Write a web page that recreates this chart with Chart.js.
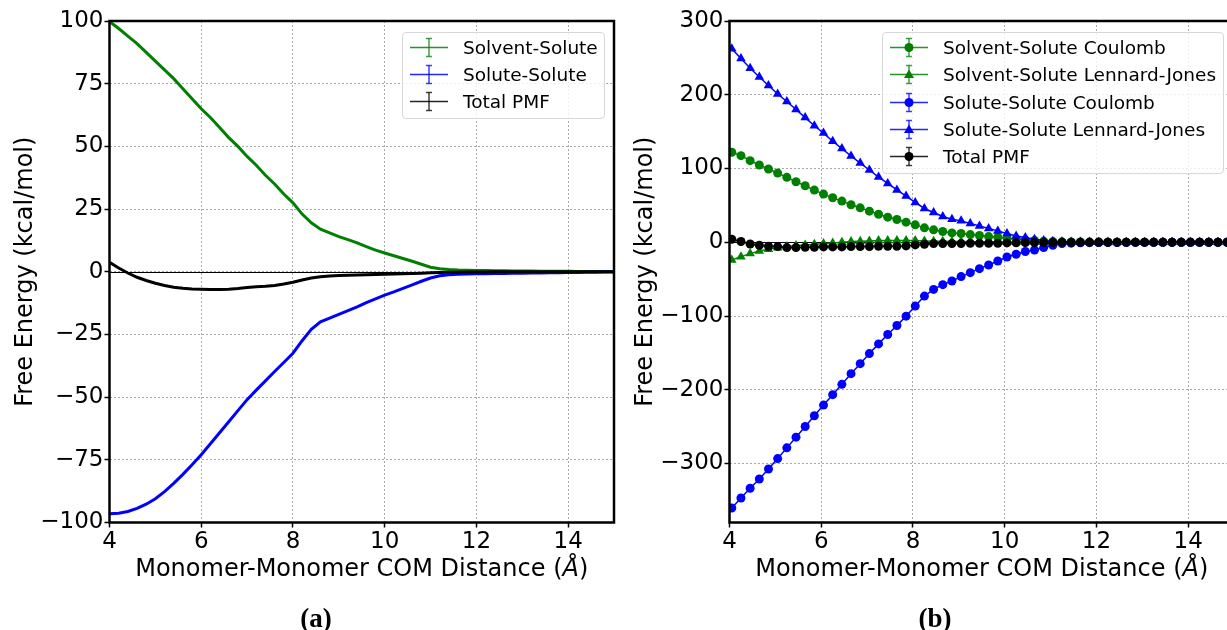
<!DOCTYPE html>
<html>
<head>
<meta charset="utf-8">
<script src="https://cdn.jsdelivr.net/npm/chart.js@4.4.1/dist/chart.umd.min.js"></script>
<style>
  body { margin: 0; width: 1227px; height: 630px; overflow: hidden; background: #fff; position: relative; font-family: 'DejaVu Sans', sans-serif; }
  .panel { position: absolute; top: 0; width: 620px; height: 630px; }
  #panelA { left: 0; }
  #panelB { left: 620px; }
  .legend { position: absolute; box-sizing: border-box; border: 1px solid #d8d8d8; border-radius: 4px; background: rgba(255,255,255,0.8); padding-top: 1px; }
  .legend .row { display: flex; align-items: center; font-size: 18.5px; color: #000; white-space: nowrap; }
  .legend svg { margin-left: 7px; margin-right: 15px; flex: none; }
  .caption { position: absolute; top: 600px; line-height: 36px; font-family: 'Liberation Serif', serif; font-weight: bold; font-size: 27px; transform: translateX(-50%); }
</style>
</head>
<body>
<canvas id="panelA" class="panel" width="620" height="630"></canvas>
<canvas id="panelB" class="panel" width="620" height="630"></canvas>
<div id="legendA" class="legend" style="left:402px; top:32px; width:203px; height:87px;"></div>
<div id="legendB" class="legend" style="left:882px; top:32px; width:342px; height:142px;"></div>
<div class="caption" style="left:316px;">(a)</div>
<div class="caption" style="left:935px;">(b)</div>
<script>
// (a) total contributions, lines only
const distanceA = [4.0, 4.2, 4.4, 4.6, 4.8, 5.0, 5.2, 5.4, 5.6, 5.8, 6.0, 6.2, 6.4, 6.6, 6.8, 7.0, 7.2, 7.4, 7.6, 7.8,
  8.0, 8.2, 8.4, 8.6, 8.8, 9.0, 9.2, 9.4, 9.6, 9.8, 10.0, 10.2, 10.4, 10.6, 10.8, 11.0, 11.2, 11.4, 11.6, 11.8,
  12.0, 12.2, 12.4, 12.6, 12.8, 13.0, 13.2, 13.4, 13.6, 13.8, 14.0, 14.2, 14.4, 14.6, 14.8, 15.0];
const solventSolute = [99.8, 97, 94, 91, 87.5, 84, 80.5, 77, 73, 69, 65, 61.5, 57.5, 53.5, 50, 46, 42.5, 38.5, 35, 31,
  27.5, 23, 19.5, 17, 15.5, 14, 12.8, 11.5, 10, 8.6, 7.5, 6.4, 5.3, 4.2, 3, 1.8, 1.2, 0.9, 0.7, 0.6,
  0.5, 0.45, 0.4, 0.35, 0.3, 0.3, 0.25, 0.2, 0.2, 0.15, 0.15, 0.1, 0.1, 0.05, 0.05, 0.05];
const soluteSolute = [-96.5, -96.3, -95.6, -94.4, -92.7, -90.5, -87.7, -84.4, -80.8, -77, -73, -68.6, -64.2, -59.8, -55.4, -51, -47.2, -43.5, -39.8, -36.2,
  -32.5, -27.5, -23, -20, -18.5, -17, -15.5, -14, -12.3, -10.8, -9.3, -8, -6.6, -5.2, -3.8, -2.5, -1.6, -1.2, -1, -0.9,
  -0.8, -0.75, -0.7, -0.65, -0.6, -0.55, -0.5, -0.45, -0.4, -0.35, -0.3, -0.25, -0.2, -0.15, -0.1, -0.1];
const totalPmfA = [3.8, 1.5, -0.5, -2.2, -3.5, -4.6, -5.5, -6.2, -6.6, -6.9, -7, -7.1, -7.1, -7, -6.7, -6.3, -6, -5.8, -5.5, -4.9,
  -4.2, -3.3, -2.5, -2, -1.7, -1.5, -1.4, -1.3, -1.2, -1.1, -1, -0.9, -0.8, -0.7, -0.55, -0.4, -0.3, -0.2, -0.15, -0.1,
  -0.05, -0.05, 0, 0, 0, 0, 0, 0, 0, 0, 0, 0, 0, 0, 0, 0];

// (b) split into Coulomb and Lennard-Jones
const distanceB = [4.05, 4.25, 4.45, 4.65, 4.85, 5.05, 5.25, 5.45, 5.65, 5.85, 6.05, 6.25, 6.45, 6.65, 6.85, 7.05, 7.25, 7.45, 7.65, 7.85,
  8.05, 8.25, 8.45, 8.65, 8.85, 9.05, 9.25, 9.45, 9.65, 9.85, 10.05, 10.25, 10.45, 10.65, 10.85, 11.05, 11.25, 11.45, 11.65, 11.85,
  12.05, 12.25, 12.45, 12.65, 12.85, 13.05, 13.25, 13.45, 13.65, 13.85, 14.05, 14.25, 14.45, 14.65, 14.85];
const solventCoulomb = [122, 117.4, 110.6, 104.7, 99.3, 93.8, 88, 82, 76.6, 70.7, 65.3, 60.3, 55.8, 50.8, 46.7, 42.2, 38, 34, 30.8, 27.2,
  23.6, 19.5, 16.8, 14.5, 12.7, 11.8, 10.4, 9.1, 7.7, 6.8, 5.4, 4, 3.2, 2.3, 1.4, 0.9, 0.6, 0.4, 0.3, 0.2,
  0.2, 0.1, 0.1, 0.1, 0.1, 0.1, 0, 0, 0, 0, 0, 0, 0, 0, 0];
const solventLJ = [-24, -19.5, -15.4, -11.8, -9.5, -7.3, -5.9, -4.5, -3.6, -2.7, -1.8, -0.9, 0, 0.9, 1.4, 1.8, 2.3, 2.3, 2.3, 2.3,
  2.3, 1.8, 1.4, 1.2, 1, 0.9, 0.8, 0.7, 0.6, 0.5, 0.4, 0.3, 0.2, 0.2, 0.1, 0.1, 0.1, 0, 0, 0,
  0, 0, 0, 0, 0, 0, 0, 0, 0, 0, 0, 0, 0, 0, 0];
const soluteCoulomb = [-360.4, -346.8, -333.6, -321, -307.4, -293.3, -278.8, -264.3, -249.8, -235.3, -220.8, -206.7, -192.7, -178.2, -164.6, -151, -137.8, -125.1, -112.9, -100.2,
  -86.6, -73, -63.9, -57.5, -52.6, -46.6, -41.2, -35.8, -30.9, -25.4, -20, -16.3, -12.6, -10.5, -7.2, -4, -1.8, -1.2, -0.8, -0.6,
  -0.5, -0.4, -0.3, -0.3, -0.2, -0.2, -0.1, -0.1, -0.1, 0, 0, 0, 0, 0, 0];
const soluteLJ = [262.5, 249, 236, 224, 212.6, 201, 190.8, 180, 169, 158, 148, 137, 127, 117, 107.4, 98, 88.4, 79.8, 71, 62.6,
  54, 45.8, 40.4, 35, 31.3, 29, 25.4, 22.2, 18.6, 15.4, 11.8, 8.6, 6.4, 4, 2.3, 1.2, 0.7, 0.4, 0.3, 0.2,
  0.1, 0.1, 0.1, 0, 0, 0, 0, 0, 0, 0, 0, 0, 0, 0, 0];
const totalPmfB = [4, 1, -2.3, -4, -5.4, -5.9, -7.2, -7.2, -6.8, -6.8, -6.3, -6.3, -6.3, -5.9, -5.9, -5.9, -5.4, -5.4, -5.4, -5,
  -3.6, -2.7, -1.8, -1.8, -1.8, -1.8, -1.4, -1.4, -1.4, -1.4, -0.9, -0.8, -0.6, -0.5, -0.4, -0.3, -0.2, -0.2, -0.1, -0.1,
  0, 0, 0, 0, 0, 0, 0, 0, 0, 0, 0, 0, 0, 0, 0];

const GREEN = '#008000';
const BLUE = '#0000ff';
const BLACK = '#000000';
const FONT = 'DejaVu Sans';

const fmt = v => String(v).replace('-', '\u2212');
const points = (xs, ys) => xs.map((x, i) => ({ x, y: ys[i] }));

// axhline at y = 0
const zeroLine = {
  id: 'zeroLine',
  beforeDatasetsDraw(chart) {
    const { ctx, chartArea: { left, right }, scales: { y } } = chart;
    const py = Math.round(y.getPixelForValue(0)) + 0.5;
    ctx.save();
    ctx.strokeStyle = '#000';
    ctx.lineWidth = 1;
    ctx.beginPath();
    ctx.moveTo(left, py);
    ctx.lineTo(right, py);
    ctx.stroke();
    ctx.restore();
  }
};

// box around the axes, like matplotlib spines
const frame = {
  id: 'frame',
  afterDatasetsDraw(chart) {
    const { ctx, chartArea: { left, top, right, bottom } } = chart;
    ctx.save();
    ctx.strokeStyle = '#000';
    ctx.lineWidth = 2.5;
    ctx.strokeRect(left, top, right - left, bottom - top);
    ctx.restore();
  }
};

// x title with italic angstrom
const xTitle = {
  id: 'xTitle',
  afterDraw(chart) {
    const { ctx, chartArea: { left, right } } = chart;
    const parts = [
      { text: 'Monomer-Monomer COM Distance (', style: '' },
      { text: '\u00c5', style: 'italic ' },
      { text: ')', style: '' }
    ];
    let total = 0;
    parts.forEach(p => {
      ctx.font = p.style + '24px "' + FONT + '"';
      p.w = ctx.measureText(p.text).width;
      total += p.w;
    });
    let x = (left + right) / 2 - total / 2;
    ctx.save();
    ctx.fillStyle = '#000';
    ctx.textBaseline = 'alphabetic';
    parts.forEach(p => {
      ctx.font = p.style + '24px "' + FONT + '"';
      ctx.fillText(p.text, x, 576);
      x += p.w;
    });
    ctx.restore();
  }
};

function axes(yMin, yMax, yStep) {
  const tickFont = { family: FONT, size: 23 };
  const grid = { color: '#a8a8a8', lineWidth: 1, drawTicks: true, tickLength: 5, tickColor: '#000', tickWidth: 1.5 };
  return {
    x: {
      type: 'linear', min: 4, max: 15,
      afterFit(scale) { scale.height = 107.5; },
      border: { display: false, dash: [2, 2] },
      grid,
      ticks: { stepSize: 2, includeBounds: false, maxRotation: 0, padding: 1, color: '#000', font: tickFont, callback: fmt }
    },
    y: {
      type: 'linear', min: yMin, max: yMax,
      afterFit(scale) { scale.width = 109.5; },
      border: { display: false, dash: [2, 2] },
      grid,
      title: { display: true, text: 'Free Energy (kcal/mol)', color: '#000', font: { family: FONT, size: 24 }, padding: { top: 11, bottom: 0 } },
      ticks: { stepSize: yStep, includeBounds: false, padding: 1, color: '#000', font: tickFont, callback: fmt }
    }
  };
}

function makeChart(id, datasets, scales) {
  const n = datasets.length;
  datasets.forEach((d, i) => { d.order = n - 1 - i; });
  return new Chart(document.getElementById(id), {
    type: 'line',
    data: { datasets },
    plugins: [zeroLine, frame, xTitle],
    options: {
      responsive: false,
      animation: false,
      devicePixelRatio: 1,
      layout: { padding: { left: 0, top: 21, right: 6, bottom: 0 } },
      scales,
      plugins: { legend: { display: false }, tooltip: { enabled: false } }
    }
  });
}

const seriesA = [
  { label: 'Solvent-Solute', color: GREEN, values: solventSolute },
  { label: 'Solute-Solute', color: BLUE, values: soluteSolute },
  { label: 'Total PMF', color: BLACK, values: totalPmfA }
];

const seriesB = [
  { label: 'Solvent-Solute Coulomb', color: GREEN, marker: 'circle', values: solventCoulomb },
  { label: 'Solvent-Solute Lennard-Jones', color: GREEN, marker: 'triangle', values: solventLJ },
  { label: 'Solute-Solute Coulomb', color: BLUE, marker: 'circle', values: soluteCoulomb },
  { label: 'Solute-Solute Lennard-Jones', color: BLUE, marker: 'triangle', values: soluteLJ },
  { label: 'Total PMF', color: BLACK, marker: 'circle', values: totalPmfB }
];

makeChart('panelA', seriesA.map(s => ({
  label: s.label,
  data: points(distanceA, s.values),
  borderColor: s.color,
  borderWidth: 3,
  pointRadius: 0,
  tension: 0
})), axes(-100, 100, 25));

makeChart('panelB', seriesB.map(s => ({
  label: s.label,
  data: points(distanceB, s.values),
  borderColor: s.color,
  borderWidth: 1.5,
  pointStyle: s.marker,
  pointRadius: s.marker === 'triangle' ? 5.5 : 4.5,
  pointBackgroundColor: s.color,
  pointBorderColor: s.color,
  pointBorderWidth: 0,
  tension: 0
})), axes(-380, 300, 100));

// legends with errorbar glyphs
function glyph(color, marker) {
  let m = '';
  if (marker === 'circle') m = `<circle cx="19" cy="13.5" r="4.5" fill="${color}"/>`;
  if (marker === 'triangle') m = `<polygon points="19,8.5 24,17 14,17" fill="${color}"/>`;
  return `<svg width="38" height="27" viewBox="0 0 38 27">
    <line x1="0" y1="13.5" x2="38" y2="13.5" stroke="${color}" stroke-width="1.5" stroke-opacity="0.85"/>
    <g stroke="${color}" stroke-width="1.5" stroke-opacity="0.75">
      <line x1="19" y1="4.5" x2="19" y2="22.5"/>
      <line x1="16" y1="4.5" x2="22" y2="4.5"/>
      <line x1="16" y1="22.5" x2="22" y2="22.5"/>
    </g>${m}</svg>`;
}

function legend(id, series, rowHeight) {
  document.getElementById(id).innerHTML = series.map(s =>
    `<div class="row" style="height:${rowHeight}px">${glyph(s.color, s.marker)}<span>${s.label}</span></div>`
  ).join('');
}

legend('legendA', seriesA, 27);
legend('legendB', seriesB, 27.3);
</script>
</body>
</html>
